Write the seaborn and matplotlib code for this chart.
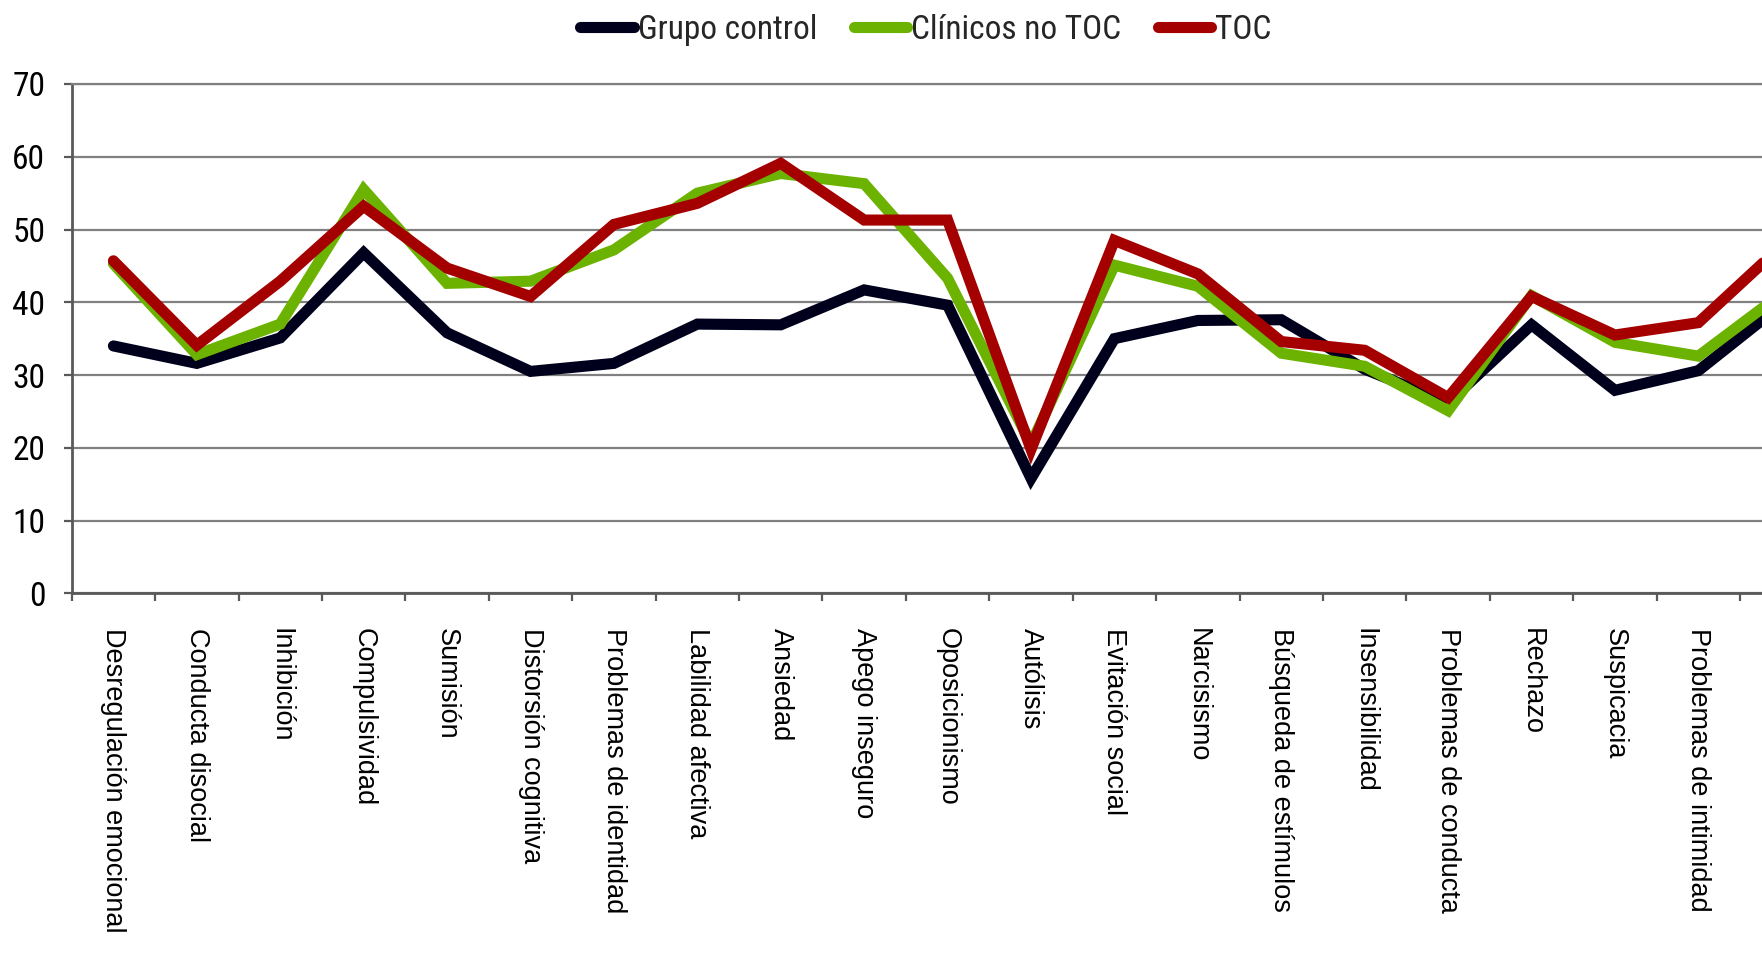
import matplotlib
matplotlib.use("Agg")
import matplotlib.pyplot as plt
from matplotlib import font_manager
import numpy as np
import pandas as pd
import seaborn as sns

# DAPP dimensions, in the order they are plotted
categorias = [
    "Desregulación emocional", "Conducta disocial", "Inhibición", "Compulsividad",
    "Sumisión", "Distorsión cognitiva", "Problemas de identidad", "Labilidad afectiva",
    "Ansiedad", "Apego inseguro", "Oposicionismo", "Autólisis", "Evitación social",
    "Narcisismo", "Búsqueda de estímulos", "Insensibilidad", "Problemas de conducta",
    "Rechazo", "Suspicacia", "Problemas de intimidad", "Expresión restringida",
]

grupo_control = [34.0, 31.6, 35.1, 46.8, 35.8, 30.5, 31.6, 37.0, 36.9, 41.7, 39.6,
                 15.8, 35.0, 37.5, 37.6, 30.8, 26.2, 36.9, 27.9, 30.6, 39.7]
clinicos_no_toc = [45.3, 32.8, 37.0, 55.5, 42.6, 42.9, 47.2, 55.0, 57.7, 56.3, 43.3,
                   20.5, 45.1, 42.2, 33.0, 31.2, 25.1, 40.9, 34.5, 32.6, 41.2]
toc = [45.7, 34.1, 42.9, 53.2, 44.7, 40.8, 50.7, 53.6, 59.1, 51.3, 51.3,
       19.8, 48.5, 43.9, 34.6, 33.4, 26.9, 40.8, 35.5, 37.2, 47.8]

grupos = ["Grupo control", "Clínicos no TOC", "TOC"]
colores = ["#00001c", "#6bb300", "#a50000"]
y_ticks = [0, 10, 20, 30, 40, 50, 60, 70]


def first_available(names):
    for name in names:
        try:
            font_manager.findfont(font_manager.FontProperties(family=name),
                                  fallback_to_default=False)
            return name
        except ValueError:
            continue
    return "DejaVu Sans"


sns.set_style("white")
regular = first_available(["Liberation Sans", "Arimo", "DejaVu Sans"])
narrow = first_available(["Liberation Sans Narrow", "Roboto Condensed", "Liberation Sans"])
plt.rcParams["font.family"] = [regular, "DejaVu Sans"]

df = pd.DataFrame({
    "Dimensión": categorias * 3,
    "Puntuación": grupo_control + clinicos_no_toc + toc,
    "Grupo": [g for g in grupos for _ in categorias],
})

W, H = 1762, 957
fig = plt.figure(figsize=(W / 100, H / 100), dpi=100)
x0, y_top, y_bot = 71.7, 84.0, 593.3
ax = fig.add_axes([x0 / W, (H - y_bot) / H, 1 - x0 / W, (y_bot - y_top) / H])

sns.lineplot(data=df, x="Dimensión", y="Puntuación", hue="Grupo", hue_order=grupos,
             palette=colores, linewidth=8.0, sort=False, estimator=None,
             legend=False, ax=ax, solid_joinstyle="miter", solid_capstyle="round")

cat_w = 83.42
n = len(categorias)

# category boundaries carry the tick marks; centres carry the labels
ax.set_xticks(np.arange(n + 1) - 0.5)
ax.set_xticks(np.arange(n), labels=categorias, minor=True)
ax.tick_params(axis="x", which="major", labelbottom=False, direction="out",
               length=6, width=1.6, color="#595959", bottom=True)
ax.tick_params(axis="x", which="minor", length=0, pad=25, labelsize=19.5,
               labelrotation=-90, labelcolor="black")
for lbl in ax.get_xticklabels(minor=True):
    lbl.set_verticalalignment("top")
    lbl.set_horizontalalignment("center")

ax.set_yticks(y_ticks)
ax.tick_params(axis="y", direction="out", length=6, width=1.6, color="#595959",
               left=True, pad=13, labelsize=24, labelcolor="black")
for lbl in ax.get_yticklabels():
    lbl.set_fontfamily([narrow, "DejaVu Sans"])

# the plot area runs past the right edge of the figure
ax.set_xlim(-0.5, (W - x0) / cat_w - 0.5)
ax.set_ylim(0, 70)

ax.yaxis.grid(True, color="#808080", linewidth=1.6)
ax.xaxis.grid(False)
ax.set_axisbelow(True)
ax.set_xlabel("")
ax.set_ylabel("")

for side in ("left", "bottom"):
    ax.spines[side].set_color("#595959")
    ax.spines[side].set_linewidth(2.0)
ax.spines["top"].set_color("#808080")
ax.spines["top"].set_linewidth(1.6)
ax.spines["right"].set_visible(False)

leg = fig.legend(handles=ax.lines[:3], labels=grupos, loc="center",
                 bbox_to_anchor=(926 / W, 1 - 30 / H), ncol=3, frameon=False,
                 handlelength=1.6, handletextpad=0.12, columnspacing=1.1,
                 prop={"family": [narrow, "DejaVu Sans"], "size": 24})

fig.savefig("out.png", dpi=100)
